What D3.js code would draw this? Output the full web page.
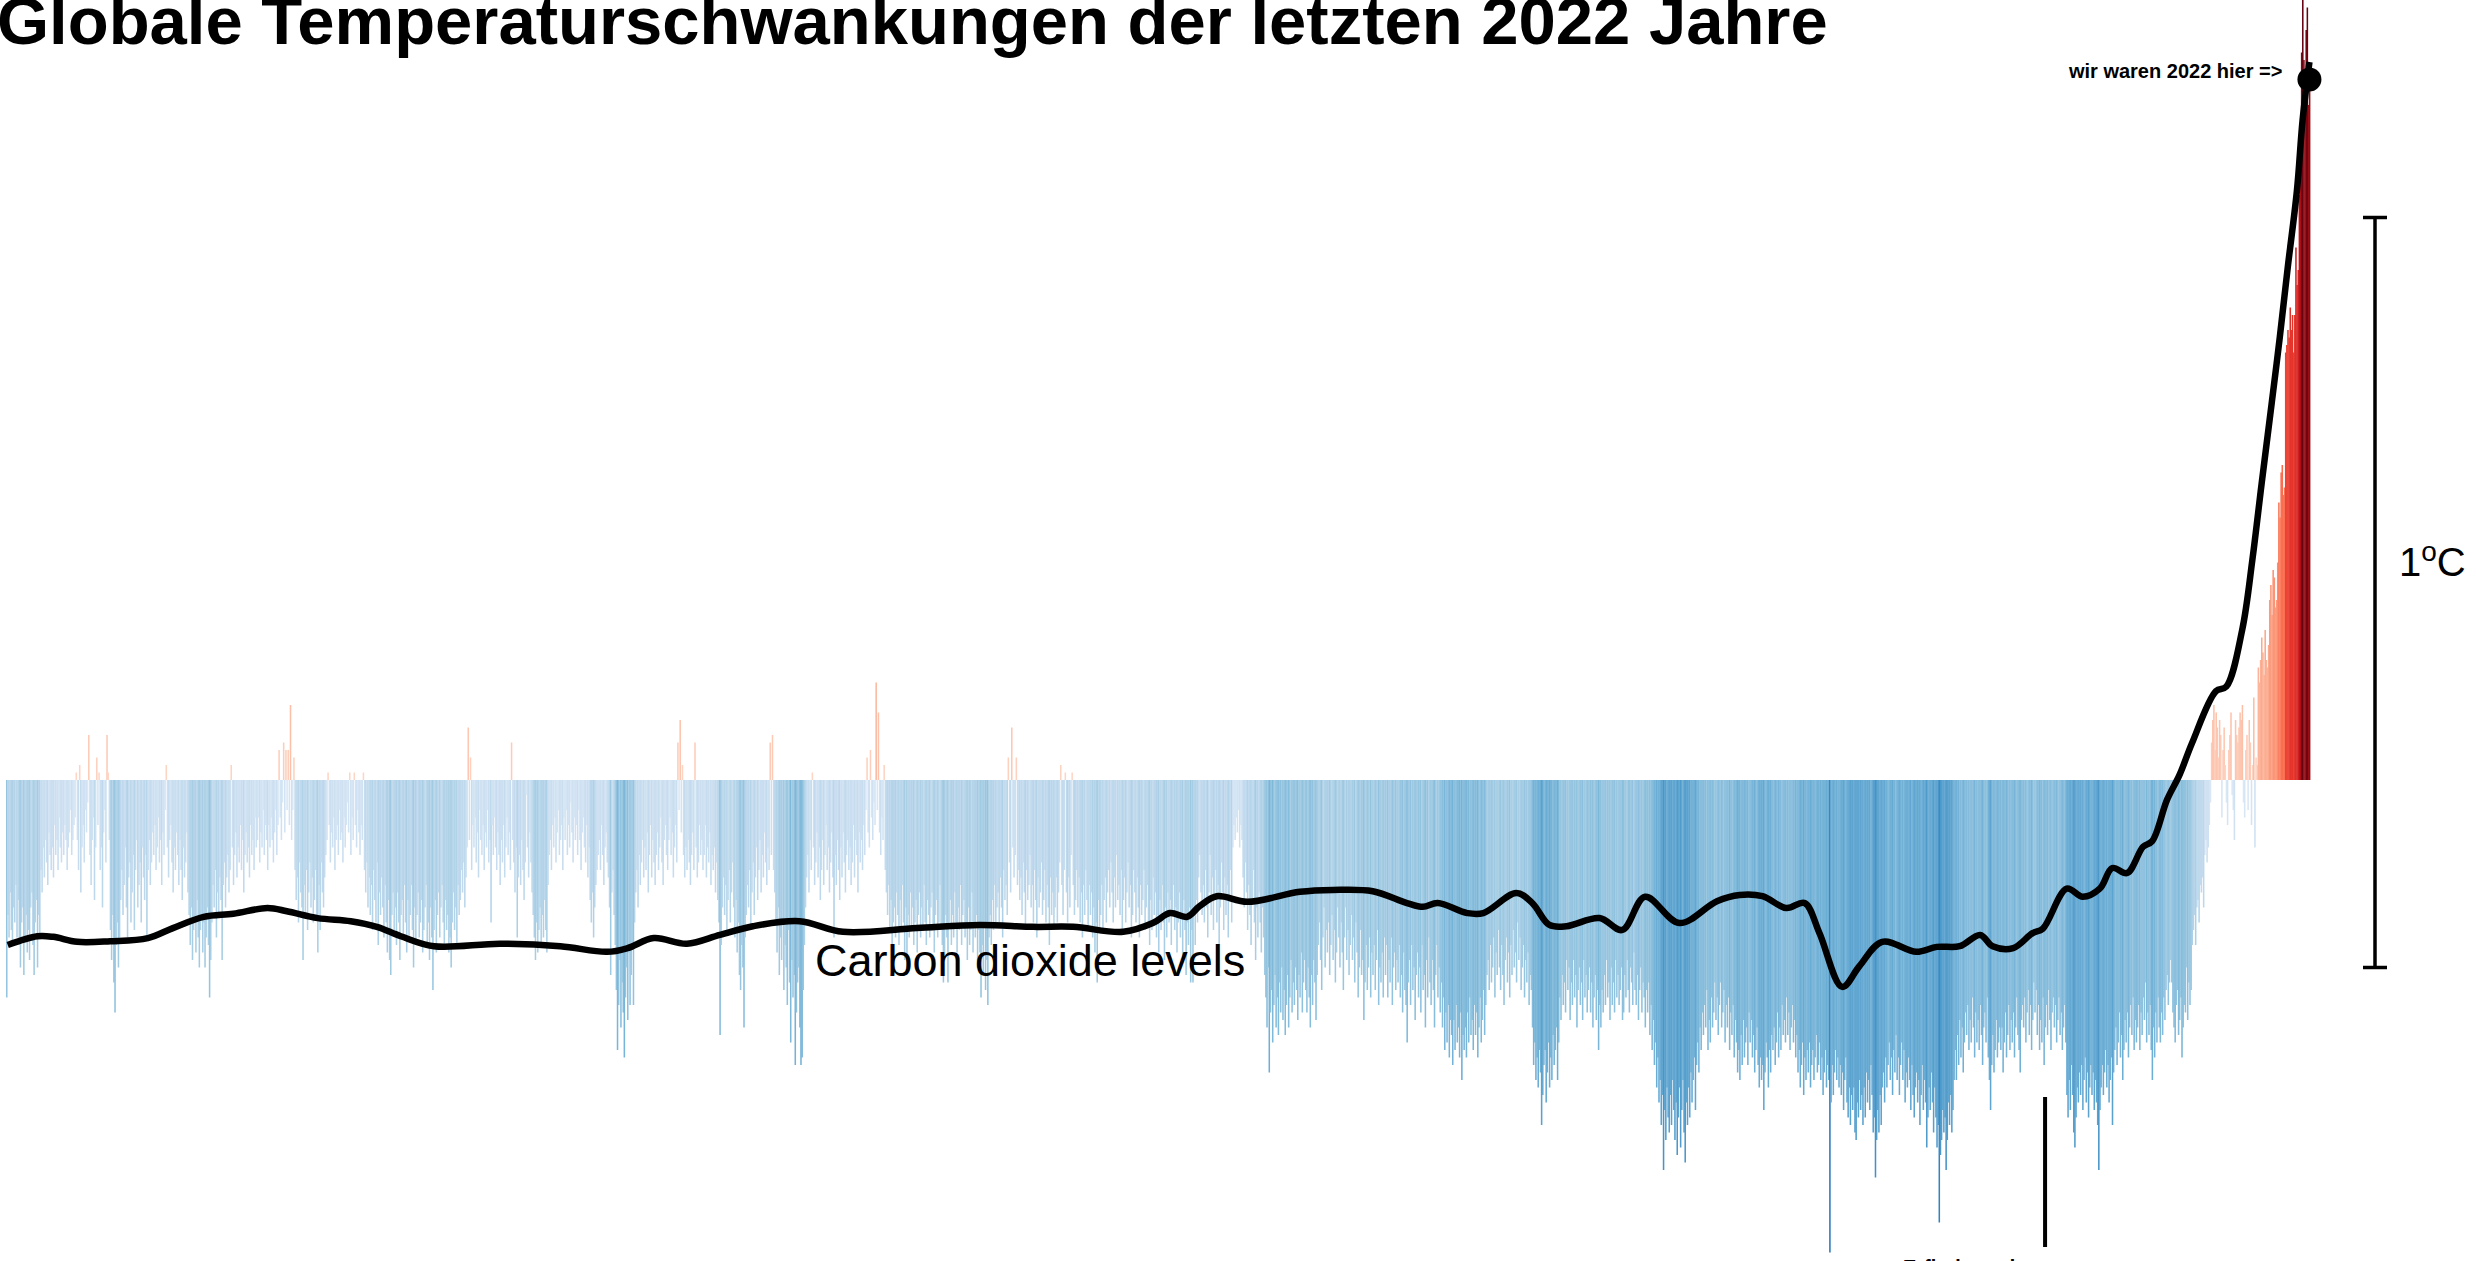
<!DOCTYPE html>
<html>
<head>
<meta charset="utf-8">
<script src="https://cdn.jsdelivr.net/npm/d3@7"></script>
<style>
  html, body { margin: 0; padding: 0; background: #ffffff; overflow: hidden; }
  svg { display: block; }
  text { font-family: "Liberation Sans", Arial, Helvetica, sans-serif; }
</style>
</head>
<body>
<svg id="chart" width="2476" height="1261"></svg>
<script>
// ---- DATA -------------------------------------------------------------
const titleText = "Globale Temperaturschwankungen der letzten 2022 Jahre";
const firstYear = 1;

// Annual temperature anomaly, hundredths of a degree C, years 1 .. 2022
const tempAnomaly = [
-29,-18,-21,-15,-20,-22,-17,-19,-14,-21,
-16,-22,-25,-19,-17,-26,-21,-18,-23,-20,
-24,-17,-15,-22,-26,-19,-16,-25,-18,-21,
-12,-15,-9,-13,-8,-11,-14,-7,-10,-12,
-9,-13,-6,-10,-8,-12,-5,-9,-11,-7,
-10,-6,-8,-12,-9,-7,-4,-10,-8,-6,
-5,1,-8,-12,2,-15,-9,-6,-11,-4,
-7,-3,6,-10,-14,-8,-5,-16,-9,3,
-6,1,-12,-9,-17,-7,-4,-11,6,1,
-8,-20,-24,-18,-27,-31,-22,-19,-25,-21,
-16,-12,-18,-14,-9,-17,-21,-13,-11,-19,
-15,-10,-20,-12,-8,-17,-14,-11,-19,-9,
-13,-16,-10,-21,-12,-8,-14,-11,-7,-10,
-6,-12,-9,-5,-11,-8,-14,-7,-10,-4,
2,-9,-13,-8,-6,-11,-15,-9,-12,-7,
-10,-14,-8,-12,-16,-9,-13,-11,-7,-15,
-18,-22,-17,-24,-20,-19,-23,-16,-21,-25,
-20,-18,-23,-19,-25,-21,-17,-22,-29,-24,
-19,-14,-17,-12,-21,-15,-18,-13,-16,-24,
-14,-11,-17,-13,-10,-15,-12,2,-9,-14,
-10,-7,-13,-9,-11,-6,-12,-8,-15,-10,
-7,-11,-9,-13,-6,-10,-8,-12,-5,-9,
-8,-5,-11,-7,-9,-4,-10,-6,-8,-12,
-6,-9,-5,-8,-11,-7,-4,-10,-6,4,
-5,-8,-3,5,-7,4,-4,4,-6,10,
-8,-4,3,-12,-16,-13,-19,-11,-15,-17,
-24,-14,-18,-12,-20,-15,-11,-17,-13,-19,
-16,-12,-18,-23,-14,-20,-11,-15,-17,-13,
-10,-8,1,-6,-11,-7,-9,-5,-12,-8,
-6,-10,-4,-8,-7,-11,-5,-9,-6,-3,
-7,1,-10,-5,-8,1,-6,-9,-4,-7,
-10,-6,-8,1,-12,-15,-11,-17,-13,-18,
-14,-20,-12,-16,-19,-11,-22,-15,-18,-13,
-17,-21,-14,-19,-23,-16,-24,-26,-18,-15,
-20,-17,-22,-15,-19,-24,-18,-16,-21,-14,
-19,-23,-16,-21,-18,-14,-20,-25,-17,-22,
-18,-15,-21,-19,-16,-23,-20,-17,-14,-22,
-19,-24,-17,-21,-28,-20,-16,-23,-18,-15,
-21,-17,-14,-19,-22,-16,-20,-18,-23,-21,
-25,-19,-15,-20,-17,-22,-14,-18,-16,-12,
-15,-11,-17,-13,-9,7,-8,3,-12,-6,
-9,-5,-11,-7,-13,-4,-8,-10,-6,-12,
-7,-9,-4,-11,-8,-19,-6,-10,-5,-9,
-12,-7,-10,-14,-8,-11,-6,-13,-9,-5,
-10,-7,-12,5,-8,-11,-15,-9,-21,-13,
-10,-14,-8,-12,-16,-11,-2,-9,-13,-7,
-11,-15,-18,-21,-24,-19,-23,-20,-17,-22,
-18,-21,-16,-20,-23,-14,-10,-8,-12,-6,
-9,-5,-11,-7,-4,-10,-8,-6,-12,-5,
-8,-4,-10,-6,-9,-3,-7,-11,-5,-8,
-6,-10,-4,-8,-12,-7,-5,-9,-11,-6,
-13,-9,-16,-19,-15,-21,-17,-14,-12,-10,
-8,-12,-6,-10,-14,-9,-7,-11,-13,-17,
-26,-15,-12,-18,-22,-28,-36,-30,-24,-33,
-27,-31,-37,-29,-25,-32,-23,-30,-26,-22,
-30,-19,-15,-12,-17,-10,-14,-11,-8,-13,
-9,-12,-7,-15,-10,-6,-13,-8,-11,-14,
-10,-7,-12,-9,-5,-11,-14,-8,-6,-10,
-12,-8,-5,-10,-7,-13,-9,-6,-11,5,
-4,8,-7,2,-10,-13,-9,-12,-8,-11,
-14,-10,-7,-12,5,-9,-13,-11,-6,-10,
-8,-12,-10,-6,-13,-9,-11,-7,-14,-10,
-12,-9,-15,-11,-16,-19,-34,-22,-17,-13,
-18,-14,-20,-16,-12,-19,-15,-11,-17,-21,
-16,-23,-19,-26,-28,-22,-25,-33,-21,-18,
-14,-17,-12,-20,-15,-11,-18,-13,-9,-16,
-12,-8,-15,-10,-13,-7,-11,-14,-9,-12,
5,-10,6,-12,-15,-19,-23,-17,-26,-21,
-24,-19,-28,-22,-25,-30,-20,-27,-35,-24,
-29,-26,-38,-31,-27,-25,-33,-38,-37,-28,
-22,-17,-13,-10,-15,-8,-12,1,-9,-14,
-11,-7,-13,-9,-16,-12,-8,-14,-10,-6,
-12,-9,-15,-11,-7,-13,-21,-10,-14,-8,
-12,-16,-9,-13,-7,-11,-15,-10,-8,-12,
-9,-14,-11,-6,-13,-8,-10,-15,-7,-11,
-8,-12,-6,-10,-4,3,-7,-9,4,-5,
-8,-3,-6,13,-4,9,-7,-10,-5,-8,
2,-12,-15,-18,-14,-20,-16,-23,-19,-17,
-21,-15,-18,-22,-16,-20,-14,-19,-24,-17,
-25,-18,-21,-15,-20,-17,-22,-19,-16,-23,
-18,-15,-21,-17,-20,-14,-19,-22,-16,-18,
-21,-17,-15,-20,-23,-18,-16,-21,-19,-14,
-20,-22,-27,-24,-18,-21,-27,-19,-16,-22,
-18,-21,-15,-19,-23,-17,-20,-14,-22,-18,
-16,-21,-19,-24,-17,-22,-20,-15,-23,-19,
-21,-18,-25,-20,-23,-29,-22,-26,-19,-28,
-24,-30,-21,-18,-22,-16,-20,-14,-19,-17,
-15,-19,-13,-17,-21,-12,-16,-14,-18,3,
-11,-15,7,-9,-13,-10,3,-14,-12,-16,
-13,-18,-11,-15,-20,-12,-16,-14,-10,-17,
-14,-19,-12,-16,-21,-13,-17,-15,-11,-18,
-16,-12,-19,-14,-17,-22,-13,-18,-15,-20,
-17,-13,-19,-15,-11,2,-14,-18,-12,1,
-15,-19,-13,-17,-10,1,-14,-18,-16,-12,
-17,-13,-19,-15,-21,-14,-18,-12,-16,-20,
-14,-18,-15,-21,-17,-23,-19,-27,-16,-20,
-18,-14,-20,-16,-13,-19,-15,-12,-17,-11,
-15,-19,-13,-17,-10,-16,-14,-18,-12,-20,
-16,-13,-19,-15,-11,-17,-14,-21,-18,-12,
-15,-19,-13,-17,-21,-14,-18,-16,-12,-20,
-17,-14,-19,-22,-16,-20,-13,-18,-15,-21,
-18,-23,-16,-20,-14,-19,-24,-17,-21,-15,
-19,-16,-22,-18,-14,-20,-17,-23,-19,-15,
-21,-18,-24,-16,-20,-26,-19,-22,-17,-27,
-20,-27,-18,-22,-16,-19,-13,-10,-15,-18,
-14,-19,-12,-17,-21,-15,-10,-18,-13,-20,
-16,-12,-19,-14,-22,-17,-11,-15,-20,-13,
-18,-14,-21,-16,-12,-19,-9,-6,-8,-5,
-7,-4,-9,-6,-8,-13,-17,-11,-15,-20,
-14,-18,-22,-16,-12,-19,-24,-17,-21,-15,
-19,-23,-17,-21,-26,-29,-33,-25,-39,-31,
-28,-35,-30,-26,-33,-29,-34,-27,-31,-25,
-32,-28,-34,-30,-26,-33,-29,-24,-31,-27,
-30,-25,-28,-32,-26,-29,-23,-31,-27,-24,
-28,-31,-25,-29,-33,-26,-30,-24,-27,-32,
-26,-22,-19,-24,-28,-21,-17,-25,-20,-23,
-19,-26,-22,-18,-24,-20,-27,-23,-17,-21,
-25,-19,-23,-28,-21,-17,-24,-20,-26,-22,
-18,-24,-21,-27,-19,-23,-29,-25,-20,-26,
-24,-32,-27,-22,-28,-25,-21,-29,-23,-26,
-22,-28,-24,-20,-30,-25,-27,-23,-29,-21,
-26,-22,-29,-24,-27,-21,-30,-25,-23,-28,
-24,-27,-22,-29,-26,-31,-23,-28,-30,-35,
-27,-24,-30,-22,-28,-25,-32,-26,-23,-29,
-25,-31,-22,-28,-26,-33,-24,-29,-21,-27,
-30,-24,-28,-33,-26,-22,-29,-25,-31,-27,
-33,-29,-36,-31,-35,-30,-37,-32,-34,-38,
-32,-36,-30,-35,-33,-37,-31,-40,-34,-36,
-33,-37,-31,-35,-29,-34,-32,-36,-30,-34,
-31,-37,-33,-29,-35,-32,-28,-34,-30,-26,
-24,-28,-22,-27,-25,-21,-29,-23,-26,-20,
-25,-28,-22,-26,-30,-24,-21,-27,-23,-29,
-22,-26,-20,-25,-23,-27,-19,-24,-21,-28,
-25,-22,-29,-24,-27,-23,-30,-26,-28,-33,
-38,-35,-40,-37,-41,-36,-39,-46,-42,-38,
-36,-43,-39,-35,-41,-37,-40,-34,-38,-36,
-33,-40,-35,-29,-32,-26,-30,-27,-31,-24,
-28,-25,-32,-27,-30,-24,-29,-26,-33,-28,
-25,-30,-27,-32,-24,-29,-26,-31,-28,-25,
-31,-27,-33,-29,-26,-32,-28,-36,-30,-33,
-28,-31,-26,-30,-24,-29,-27,-32,-25,-30,
-27,-31,-24,-29,-26,-30,-28,-25,-32,-31,
-26,-29,-24,-28,-31,-25,-27,-30,-23,-28,
-30,-26,-32,-28,-25,-31,-27,-29,-33,-28,
-31,-27,-34,-30,-36,-32,-38,-35,-41,-37,
-43,-40,-46,-42,-52,-44,-48,-41,-45,-47,
-42,-46,-40,-44,-48,-43,-50,-45,-41,-49,
-44,-40,-47,-51,-43,-46,-41,-45,-39,-43,
-40,-37,-44,-38,-35,-39,-33,-36,-31,-34,
-30,-33,-28,-36,-32,-35,-29,-33,-31,-27,
-32,-29,-34,-30,-27,-33,-31,-28,-35,-30,
-33,-29,-36,-31,-34,-30,-37,-32,-35,-39,
-36,-40,-34,-38,-32,-37,-35,-33,-38,-31,
-35,-32,-37,-34,-39,-36,-33,-38,-41,-37,
-40,-38,-44,-39,-35,-37,-41,-36,-39,-34,
-36,-33,-38,-35,-31,-37,-33,-36,-30,-34,
-32,-35,-29,-34,-31,-36,-33,-30,-35,-32,
-37,-34,-39,-36,-41,-38,-35,-42,-37,-40,
-36,-39,-35,-41,-38,-36,-40,-37,-34,-39,
-38,-35,-40,-37,-42,-39,-36,-41,-38,-40,
-63,-43,-38,-42,-39,-36,-40,-37,-41,-38,
-42,-39,-44,-40,-37,-43,-45,-41,-46,-42,
-44,-41,-47,-48,-43,-45,-40,-44,-42,-46,
-41,-45,-39,-43,-40,-44,-38,-42,-47,-45,
-53,-48,-44,-47,-42,-46,-41,-39,-43,-37,
-41,-38,-35,-40,-37,-42,-36,-39,-34,-40,
-37,-42,-38,-35,-40,-36,-43,-39,-41,-37,
-40,-44,-38,-42,-45,-41,-39,-43,-40,-46,
-42,-38,-44,-40,-43,-49,-45,-41,-44,-39,
-43,-47,-41,-45,-49,-46,-59,-50,-48,-44,
-47,-45,-52,-48,-43,-46,-42,-47,-44,-40,
-36,-40,-34,-38,-32,-37,-33,-39,-35,-31,
-34,-30,-36,-32,-35,-29,-33,-37,-31,-35,
-32,-36,-30,-34,-38,-33,-31,-35,-29,-37,
-40,-44,-38,-34,-39,-36,-32,-37,-35,-33,
-36,-33,-39,-35,-31,-37,-34,-30,-36,-32,
-35,-31,-37,-33,-29,-34,-36,-39,-32,-30,
-33,-29,-35,-31,-28,-34,-30,-36,-32,-27,
-31,-28,-34,-30,-36,-32,-35,-29,-38,-33,
-30,-34,-28,-32,-36,-31,-29,-33,-30,-35,
-32,-29,-34,-31,-36,-33,-30,-35,-42,-45,
-40,-44,-38,-42,-47,-49,-45,-41,-43,-39,
-42,-38,-44,-40,-37,-43,-39,-45,-41,-38,
-42,-39,-44,-40,-43,-46,-52,-44,-41,-38,
-42,-39,-36,-41,-38,-43,-40,-37,-46,-39,
-36,-33,-38,-35,-31,-37,-34,-40,-36,-32,
-35,-31,-37,-33,-30,-34,-29,-36,-32,-35,
-33,-30,-36,-31,-34,-29,-32,-27,-35,-31,
-34,-30,-36,-40,-33,-37,-31,-35,-29,-33,
-35,-31,-34,-29,-32,-28,-26,-30,-27,-24,
-27,-31,-33,-35,-30,-28,-34,-32,-29,-37,
-33,-30,-31,-25,-32,-27,-30,-28,-22,-20,
-18,-22,-17,-16,-19,-14,-15,-13,-17,-10,
-8,-11,-9,-6,-3,5,8,10,4,9,
7,3,8,6,-5,4,7,2,-3,-6,
4,6,9,-2,-4,-8,8,6,5,7,
9,8,10,-3,-5,4,6,-4,8,5,
-6,2,11,-9,3,2,15,13,16,19,
17,14,20,16,15,18,24,26,22,28,
27,23,24,29,37,35,41,42,38,39,
57,58,60,59,63,60,62,57,62,71,
66,68,78,84,97,104,96,92,100,103,
90,93
];

// Carbon dioxide (ppm)
const co2Years = [2, 28, 42, 63, 92, 125, 147, 174, 200, 230, 247, 274, 303, 326, 347, 376, 434, 487, 528, 546, 569, 598, 627, 656, 697, 735, 800, 855, 902, 937, 981, 1007, 1022, 1037, 1048, 1063, 1090, 1136, 1165, 1200, 1230, 1244, 1257, 1283, 1297, 1326, 1340, 1355, 1370, 1399, 1419, 1439, 1469, 1502, 1522, 1542, 1563, 1579, 1592, 1612, 1627, 1647, 1677, 1695, 1715, 1733, 1744, 1762, 1779, 1788, 1809, 1823, 1838, 1849, 1862, 1876, 1884, 1897, 1908, 1919, 1940, 1949, 1963, 1972, 1980, 1989, 1996, 2003, 2011, 2016, 2022];
const co2Values = [276.8, 278.2, 278.1, 277.3, 277.4, 277.9, 279.5, 281.3, 281.8, 282.7, 282.2, 281.1, 280.6, 279.7, 278.2, 276.6, 277.0, 276.6, 275.7, 276.3, 277.9, 277.0, 278.4, 279.8, 280.6, 278.9, 279.5, 280.0, 279.7, 279.7, 278.9, 280.3, 281.9, 281.3, 283.0, 284.6, 283.7, 285.3, 285.6, 285.4, 283.5, 282.9, 283.5, 281.9, 281.9, 285.1, 283.5, 280.0, 279.8, 281.1, 279.2, 284.5, 280.3, 283.8, 284.8, 284.6, 282.7, 283.5, 278.7, 270.1, 273.4, 277.3, 275.7, 276.5, 276.6, 278.4, 276.6, 276.3, 278.7, 279.4, 285.8, 284.5, 285.8, 289.1, 288.3, 292.5, 293.4, 300.0, 304.0, 309.1, 317.4, 318.1, 327.2, 338.5, 350.5, 363.6, 374.0, 385.2, 397.4, 408.7, 418.0];

// Highlighted point ("wir waren 2022 hier")
const markerYear = 2022;
const markerCO2 = 415.2;

// Labels
const co2Label = "Carbon dioxide levels";
const markerLabel = "wir waren 2022 hier =>";
const scaleBarLow = -0.25;   // lower end of the 1 degree scale bar (degC)
const scaleBarSpan = 1;      // degC
const eventYear = 1790;
const eventLabelLines = ["Erfindung der", "Dampfmaschine"];

// ---- CHART ------------------------------------------------------------
const svg = d3.select("#chart");
const years = d3.range(firstYear, firstYear + tempAnomaly.length);
const temps = tempAnomaly.map(v => v / 100);

const x = d3.scaleBand().domain(years).range([6, 2310]).padding(0);
const y = d3.scaleLinear().domain([0, 1]).range([780, 30]);
const yCO2 = d3.scaleLinear().domain([270, 418]).range([987.5, 62]);

function barColor(v) {
  if (v < 0) return d3.interpolateBlues(Math.min(0.85, 0.12 + 0.95 * (-v)));
  return d3.interpolateReds(Math.min(1, 0.15 + 0.82 * v));
}

svg.append("g").selectAll("rect")
  .data(years.map((yr, i) => ({ yr, v: temps[i] })))
  .join("rect")
  .attr("x", d => x(d.yr))
  .attr("width", x.bandwidth() + 0.4)
  .attr("y", d => Math.min(y(d.v), y(0)))
  .attr("height", d => Math.abs(y(d.v) - y(0)))
  .attr("fill", d => barColor(d.v));

// CO2 curve
const co2 = co2Years.map((yr, i) => ({ yr, v: co2Values[i] }));
const line = d3.line()
  .x(d => x(d.yr) + x.bandwidth() / 2)
  .y(d => yCO2(d.v))
  .curve(d3.curveCatmullRom.alpha(0.5));
svg.append("path")
  .datum(co2)
  .attr("d", line)
  .attr("fill", "none")
  .attr("stroke", "#000")
  .attr("stroke-width", 6.5)
  .attr("stroke-linejoin", "round");

// marker dot
const mx = x(markerYear) + x.bandwidth() / 2;
svg.append("circle")
  .attr("cx", mx).attr("cy", yCO2(markerCO2)).attr("r", 12)
  .attr("fill", "#000");
svg.append("text")
  .attr("x", mx - 27).attr("y", yCO2(markerCO2) - 2)
  .attr("text-anchor", "end")
  .attr("font-size", 20).attr("font-weight", "bold")
  .text(markerLabel);

// CO2 label
svg.append("text")
  .attr("x", 815).attr("y", 976)
  .attr("font-size", 45)
  .text(co2Label);

// title
svg.append("text")
  .attr("x", -3).attr("y", 44)
  .attr("font-size", 67).attr("font-weight", "bold")
  .text(titleText);

// scale bar
const sbX = 2375;
const sb = svg.append("g").attr("stroke", "#000").attr("stroke-width", 3.5);
sb.append("line").attr("x1", sbX).attr("x2", sbX)
  .attr("y1", y(scaleBarLow)).attr("y2", y(scaleBarLow + scaleBarSpan));
[scaleBarLow, scaleBarLow + scaleBarSpan].forEach(v => {
  sb.append("line").attr("x1", sbX - 12).attr("x2", sbX + 12)
    .attr("y1", y(v)).attr("y2", y(v));
});
const sbLabel = svg.append("text")
  .attr("x", 2399).attr("y", 576)
  .attr("font-size", 40);
sbLabel.append("tspan").text("1");
sbLabel.append("tspan").attr("font-size", 28).attr("dy", -15).text("o");
sbLabel.append("tspan").attr("dy", 15).text("C");

// event marker
const ex = x(eventYear) + x.bandwidth() / 2;
svg.append("line")
  .attr("x1", ex).attr("x2", ex)
  .attr("y1", 1097).attr("y2", 1247)
  .attr("stroke", "#000").attr("stroke-width", 4);
const evText = svg.append("text")
  .attr("x", 1903).attr("y", 1274)
  .attr("font-size", 20).attr("font-weight", "bold");
eventLabelLines.forEach((t, i) => {
  evText.append("tspan").attr("x", 1903).attr("dy", i === 0 ? 0 : 24).text(t);
});
</script>
</body>
</html>
